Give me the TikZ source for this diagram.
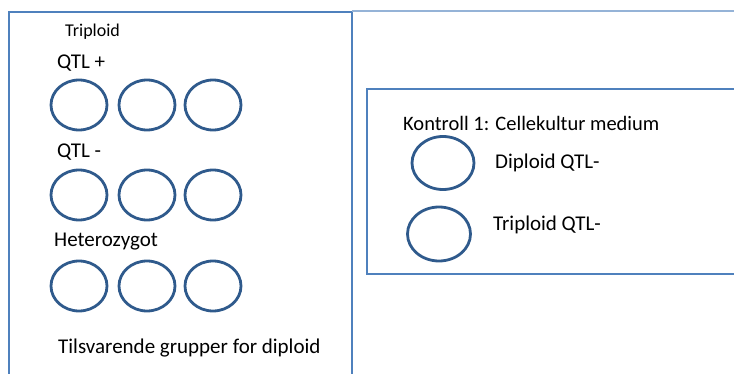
\documentclass[tikz,border=0pt]{standalone}
\usepackage{fontspec}
\setmainfont{Carlito}
\usetikzlibrary{shapes.geometric}
\definecolor{boxblue}{HTML}{4F81BD}
\definecolor{lineblue}{HTML}{95B3D7}
\definecolor{wellblue}{HTML}{2F5A8C}
\tikzset{
  well/.style={ellipse,draw=wellblue,line width=2.8pt,minimum width=56pt,minimum height=50pt,inner sep=0pt},
  lbl/.style={anchor=west,inner sep=0pt,font=\fontsize{21}{24}\selectfont},
  frame/.style={draw=boxblue,line width=1.8pt}
}
\begin{document}
\begin{tikzpicture}[x=1pt,y=-1pt]
        \useasboundingbox (0,0) rectangle (734,374);
        % boxes
        \draw[frame] (9,380)--(9,12)--(352,12)--(352,380);
        \draw[draw=lineblue,line width=1.2pt] (352,11)--(740,11);
        \draw[frame] (740,89)--(367,89)--(367,274)--(740,274);
        % triploid groups
        \node[lbl,font=\fontsize{18}{20}\selectfont] (trip) at (65,32) {Triploid};
        \node[lbl] (qtlp) at (57,63) {QTL +};
        \node[lbl] (qtlm) at (57,152) {QTL -};
        \node[lbl] (het) at (54,242) {Heterozygot};
        \foreach \x [count=\i] in {79,147,213} {
            \node[well] (qp\i) at (\x,105) {};
            \node[well] (qm\i) at (\x,195) {};
            \node[well] (ht\i) at (\x,286) {};
        }
        \node[lbl] (dipl) at (58,348) {Tilsvarende grupper for diploid};
        % kontroll
        \node[lbl,font=\fontsize{20.5}{23}\selectfont] (kontr) at (403,123) {Kontroll 1: Cellekultur medium};
        \node[well,minimum width=62pt,minimum height=53pt] (k1) at (443,163) {};
        \node[lbl] (k1t) at (495,163) {Diploid QTL-};
        \node[well,minimum width=63pt,minimum height=54pt] (k2) at (439,234) {};
        \node[lbl] (k2t) at (493,225) {Triploid QTL-};
    \end{tikzpicture}
\end{document}
